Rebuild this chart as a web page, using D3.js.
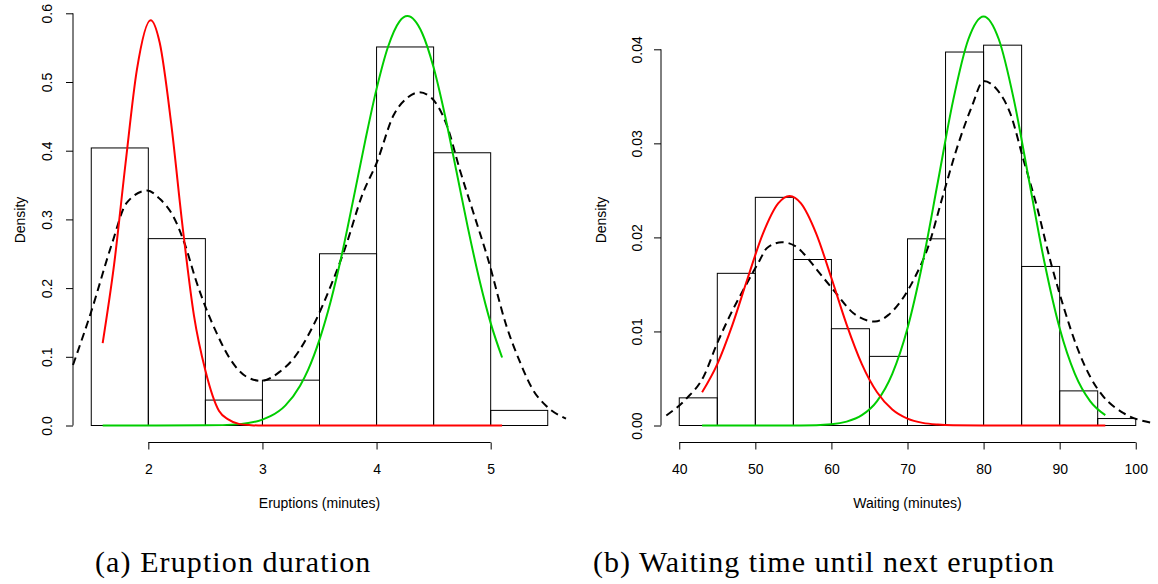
<!DOCTYPE html>
<html>
<head>
<meta charset="utf-8">
<script src="https://cdn.jsdelivr.net/npm/d3@7"></script>
</head>
<body style="margin:0">
<div id="chart"></div>
<script>
// histogram of eruption durations (density scale)
const eruptBreaks = [1.5, 2, 2.5, 3, 3.5, 4, 4.5, 5, 5.5];
const eruptDensity = [0.404, 0.272, 0.037, 0.066, 0.250, 0.551, 0.397, 0.022];
const eruptXTicks = [2, 3, 4, 5];
const eruptYTicks = [0, 0.1, 0.2, 0.3, 0.4, 0.5, 0.6];
const eruptYLabels = ["0.0", "0.1", "0.2", "0.3", "0.4", "0.5", "0.6"];

// dashed overall density
const eruptDashX = [1.34, 1.5, 1.68, 1.81, 1.99, 2.10, 2.22, 2.32, 2.42, 2.50, 2.60, 2.72, 2.86, 2.99, 3.15, 3.27, 3.45, 3.62, 3.72, 3.88, 4.0, 4.15, 4.27, 4.375, 4.48, 4.62, 4.73, 4.85, 4.97, 5.14, 5.26, 5.37, 5.49, 5.66];
const eruptDashY = [0.088, 0.166, 0.264, 0.324, 0.342, 0.330, 0.304, 0.264, 0.210, 0.173, 0.134, 0.096, 0.071, 0.065, 0.078, 0.097, 0.147, 0.212, 0.256, 0.338, 0.382, 0.452, 0.477, 0.485, 0.477, 0.435, 0.372, 0.309, 0.246, 0.144, 0.091, 0.052, 0.028, 0.010];

// first component (red)
const eruptRedX = [1.6, 1.7, 1.8, 1.9, 2.02, 2.1, 2.2, 2.3, 2.4, 2.5, 2.62, 2.7, 2.8, 2.9, 3.0, 5.1];
const eruptRedY = [0.120, 0.234, 0.381, 0.518, 0.590, 0.557, 0.440, 0.290, 0.160, 0.080, 0.021, 0.009, 0.002, 0.0005, 0, 0];

// second component (green)
const eruptGreenX = [1.6, 2.5, 2.8, 3.0, 3.07, 3.2, 3.33, 3.4, 3.5, 3.6, 3.7, 3.8, 3.9, 4.0, 4.1, 4.2, 4.27, 4.4, 4.5, 4.6, 4.7, 4.8, 4.9, 5.0, 5.1];
const eruptGreenY = [0, 0.0002, 0.002, 0.0086, 0.0135, 0.029, 0.058, 0.081, 0.125, 0.182, 0.252, 0.332, 0.414, 0.490, 0.551, 0.588, 0.596, 0.571, 0.521, 0.451, 0.370, 0.288, 0.213, 0.149, 0.099];

// histogram of waiting times
const waitBreaks = [40, 45, 50, 55, 60, 65, 70, 75, 80, 85, 90, 95, 100];
const waitDensity = [0.00294, 0.01618, 0.02426, 0.01765, 0.01029, 0.00735, 0.01985, 0.03971, 0.04044, 0.01691, 0.00368, 0.00074];
const waitXTicks = [40, 50, 60, 70, 80, 90, 100];
const waitYTicks = [0, 0.01, 0.02, 0.03, 0.04];
const waitYLabels = ["0.00", "0.01", "0.02", "0.03", "0.04"];

const waitDashX = [38.3, 41.0, 43.2, 44.9, 46.7, 48.9, 50.6, 51.5, 53.5, 55.4, 56.3, 58.1, 60.25, 62.9, 65.7, 67.5, 69.25, 71.0, 72.8, 74.5, 76.7, 78.45, 80.0, 81.8, 83.5, 85.25, 87.0, 88.75, 90.5, 92.25, 94.0, 95.75, 98.4, 102.25];
const waitDashY = [0.00106, 0.00291, 0.0052, 0.00858, 0.01176, 0.01513, 0.01761, 0.01885, 0.01949, 0.0190, 0.01832, 0.01655, 0.01442, 0.01194, 0.01105, 0.01176, 0.01336, 0.0158, 0.0192, 0.0240, 0.0300, 0.0339, 0.03663, 0.03568, 0.0332, 0.02824, 0.0233, 0.0176, 0.01265, 0.0084, 0.0052, 0.00308, 0.00132, 0.00026];

const waitRedX = [43, 45, 47, 49, 51, 53, 54.5, 56, 58, 60, 62, 64, 66, 68, 70, 72, 74, 76, 80, 96];
const waitRedY = [0.00353, 0.00653, 0.01073, 0.01568, 0.0204, 0.02361, 0.0244, 0.02361, 0.0204, 0.01568, 0.01073, 0.00653, 0.00353, 0.0017, 0.00073, 0.00028, 0.0001, 0.00003, 0, 0];

const waitGreenX = [43, 56, 60, 62, 64, 66, 68, 70, 72, 74, 76, 78, 80, 82, 84, 86, 88, 90, 92, 94, 96];
const waitGreenY = [0, 0.00001, 0.00014, 0.00041, 0.0011, 0.0026, 0.0055, 0.01034, 0.01735, 0.02594, 0.03457, 0.04107, 0.0435, 0.04107, 0.03457, 0.02594, 0.01735, 0.01034, 0.0055, 0.0026, 0.0011];

const sansName = "Liberation Sans";
const serifName = "Liberation Serif";

const width = 1158, height = 584;
const svg = d3.select("#chart").append("svg")
  .attr("width", width)
  .attr("height", height);
svg.append("rect").attr("width", width).attr("height", height).attr("fill", "#fff");

function sans(sel) {
  return sel.attr("font-family", sansName)
    .style("font-family", `"${sansName}"`)
    .style("font-size", "14px")
    .attr("fill", "#000");
}

function drawPanel(p) {
  const x = d3.scaleLinear().domain(p.xDomain).range(p.xRange);
  const y = d3.scaleLinear().domain([0, p.yTop]).range([425.5, p.yTopPx]);
  const g = svg.append("g");

  // bars
  const bins = p.density.map((d, i) => ({ x0: p.breaks[i], x1: p.breaks[i + 1], d: d }));
  g.selectAll("rect.bar")
    .data(bins)
    .enter()
    .append("rect")
    .attr("class", "bar")
    .attr("x", d => x(d.x0))
    .attr("width", d => x(d.x1) - x(d.x0))
    .attr("y", d => y(d.d))
    .attr("height", d => y(0) - y(d.d))
    .attr("fill", "none")
    .attr("stroke", "#000")
    .attr("stroke-width", 1);

  const line = d3.line()
    .x(d => x(d[0]))
    .y(d => y(d[1]))
    .curve(d3.curveMonotoneX);

  g.append("path")
    .datum(d3.zip(p.dashX, p.dashY))
    .attr("d", line)
    .attr("fill", "none")
    .attr("stroke", "#000")
    .attr("stroke-width", 2)
    .attr("stroke-dasharray", "8,5");

  g.append("path")
    .datum(d3.zip(p.greenX, p.greenY))
    .attr("d", line)
    .attr("fill", "none")
    .attr("stroke", "#00cd00")
    .attr("stroke-width", 2);

  g.append("path")
    .datum(d3.zip(p.redX, p.redY))
    .attr("d", line)
    .attr("fill", "none")
    .attr("stroke", "#ff0000")
    .attr("stroke-width", 2);

  // x axis, R style: line only between first and last tick
  const xa = g.append("g")
    .attr("transform", "translate(0,442.5)")
    .call(d3.axisBottom(x).tickValues(p.xTicks).tickSize(7).tickFormat(d3.format("d")));
  xa.select(".domain").remove();
  xa.append("line")
    .attr("x1", x(p.xTicks[0])).attr("x2", x(p.xTicks[p.xTicks.length - 1]))
    .attr("stroke", "#000");
  xa.selectAll(".tick text").attr("y", 31).attr("dy", 0);

  const ya = g.append("g")
    .attr("transform", `translate(${p.xRange[0]},0)`)
    .call(d3.axisLeft(y).tickValues(p.yTicks).tickSize(7).tickFormat((d, i) => p.yLabels[i]));
  ya.select(".domain").remove();
  ya.append("line")
    .attr("y1", y(p.yTicks[0])).attr("y2", y(p.yTicks[p.yTicks.length - 1]))
    .attr("stroke", "#000");
  ya.selectAll(".tick text")
    .attr("x", 0).attr("dy", 0)
    .attr("text-anchor", "middle")
    .attr("transform", `translate(${-p.yLabOff},0) rotate(-90)`);

  [xa, ya].forEach(a => {
    a.attr("font-family", sansName).attr("font-size", 14);
    a.selectAll(".tick line").attr("stroke", "#000");
    sans(a.selectAll(".tick text"));
  });

  sans(svg.append("text"))
    .attr("x", (p.xRange[0] + p.xRange[1]) / 2)
    .attr("y", 508)
    .attr("text-anchor", "middle")
    .text(p.xTitle);

  sans(svg.append("text"))
    .attr("text-anchor", "middle")
    .attr("transform", `translate(${p.yTitleX},220) rotate(-90)`)
    .text("Density");

  svg.append("text")
    .attr("font-family", serifName)
    .style("font-family", `"${serifName}"`)
    .style("font-size", "30px")
    .style("letter-spacing", `${p.capSpacing}px`)
    .attr("fill", "#000")
    .attr("x", p.capX)
    .attr("y", 572)
    .text(p.caption);
}

drawPanel({
  xDomain: [1.34, 5.66], xRange: [73, 566],
  yTop: 0.6, yTopPx: 13.3,
  breaks: eruptBreaks, density: eruptDensity,
  dashX: eruptDashX, dashY: eruptDashY,
  redX: eruptRedX, redY: eruptRedY,
  greenX: eruptGreenX, greenY: eruptGreenY,
  xTicks: eruptXTicks, yTicks: eruptYTicks, yLabels: eruptYLabels,
  yLabOff: 21, yTitleX: 24.5,
  xTitle: "Eruptions (minutes)",
  caption: "(a) Eruption duration", capX: 95, capSpacing: 1.1
});

drawPanel({
  xDomain: [37.6, 102.4], xRange: [661, 1154],
  yTop: 0.04, yTopPx: 49.3,
  breaks: waitBreaks, density: waitDensity,
  dashX: waitDashX, dashY: waitDashY,
  redX: waitRedX, redY: waitRedY,
  greenX: waitGreenX, greenY: waitGreenY,
  xTicks: waitXTicks, yTicks: waitYTicks, yLabels: waitYLabels,
  yLabOff: 19.5, yTitleX: 606,
  xTitle: "Waiting (minutes)",
  caption: "(b) Waiting time until next eruption", capX: 593, capSpacing: 1.0
});
</script>
</body>
</html>
